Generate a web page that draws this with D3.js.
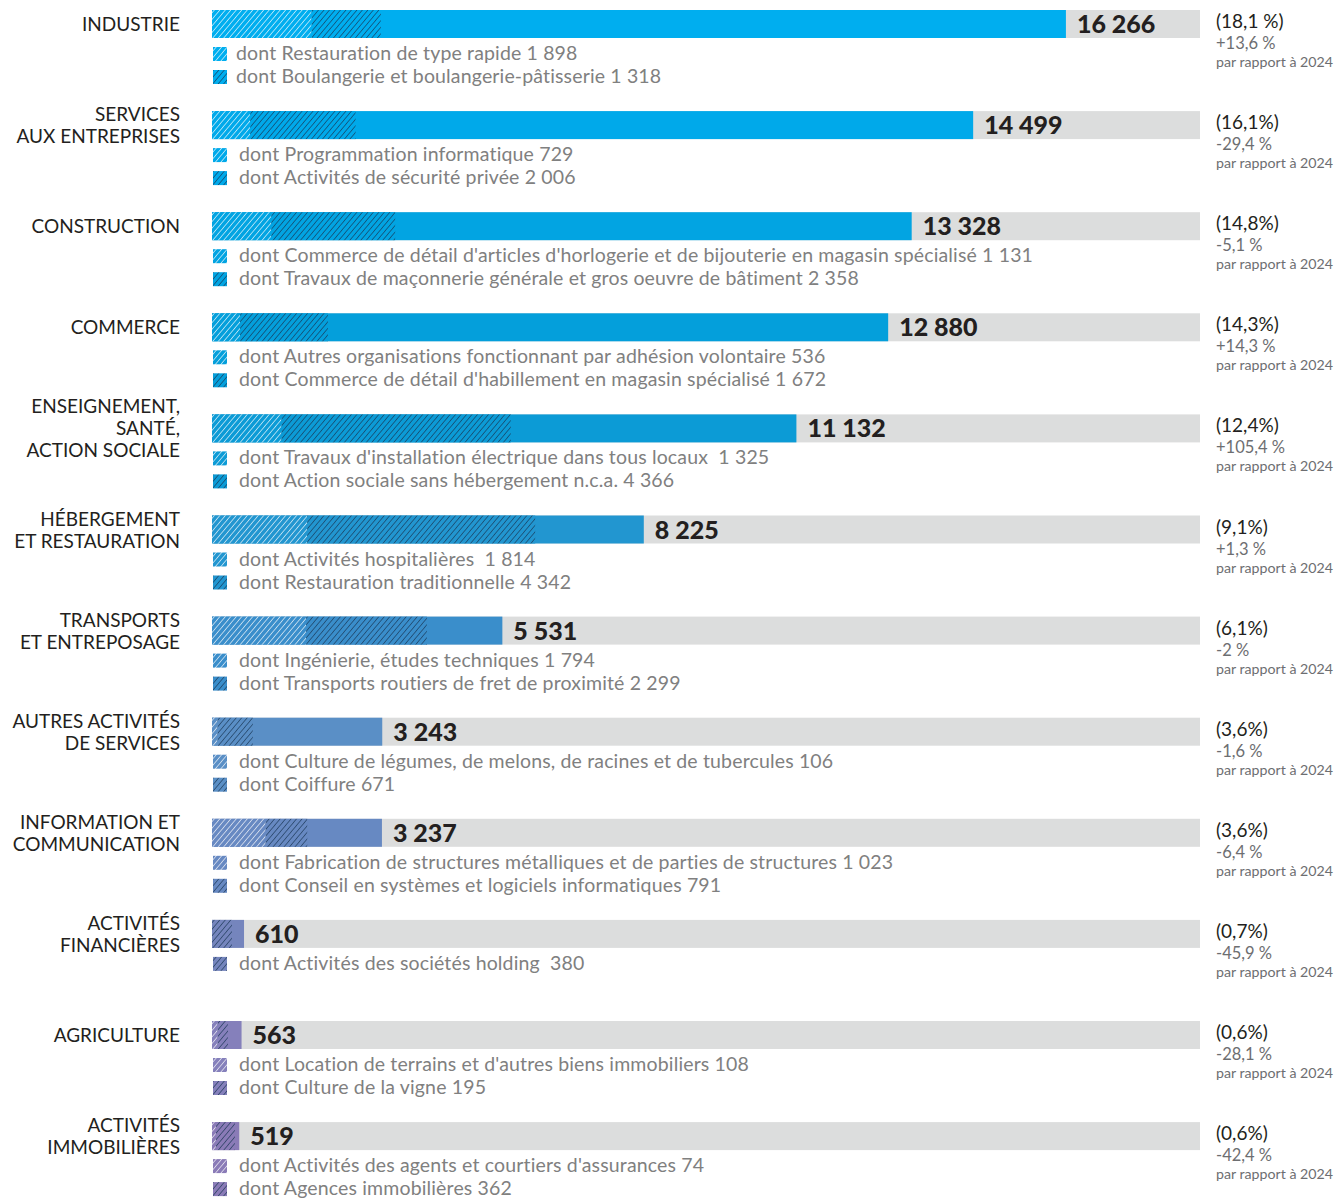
<!DOCTYPE html>
<html>
<head>
<meta charset="utf-8">
<script src="https://cdn.jsdelivr.net/npm/d3@7"></script>
<style>
  body { margin: 0; background: #fff; }
  svg text { font-family: Lato, "Open Sans", sans-serif; white-space: pre; }
</style>
</head>
<body>
<div id="vis"></div>
<script>
// data
const categories = [
  ["INDUSTRIE"],
  ["SERVICES", "AUX ENTREPRISES"],
  ["CONSTRUCTION"],
  ["COMMERCE"],
  ["ENSEIGNEMENT,", "SANTÉ,", "ACTION SOCIALE"],
  ["HÉBERGEMENT", "ET RESTAURATION"],
  ["TRANSPORTS", "ET ENTREPOSAGE"],
  ["AUTRES ACTIVITÉS", "DE SERVICES"],
  ["INFORMATION ET", "COMMUNICATION"],
  ["ACTIVITÉS", "FINANCIÈRES"],
  ["AGRICULTURE"],
  ["ACTIVITÉS", "IMMOBILIÈRES"]
];
const totals = [16266, 14499, 13328, 12880, 11132, 8225, 5531, 3243, 3237, 610, 563, 519];
const shares = ["(18,1 %)", "(16,1%)", "(14,8%)", "(14,3%)", "(12,4%)", "(9,1%)", "(6,1%)", "(3,6%)", "(3,6%)", "(0,7%)", "(0,6%)", "(0,6%)"];
const changes = ["+13,6 %", "-29,4 %", "-5,1 %", "+14,3 %", "+105,4 %", "+1,3 %", "-2 %", "-1,6 %", "-6,4 %", "-45,9 %", "-28,1 %", "-42,4 %"];
const sub1Labels = [
  "dont Restauration de type rapide",
  "dont Programmation informatique",
  "dont Commerce de détail d'articles d'horlogerie et de bijouterie en magasin spécialisé",
  "dont Autres organisations fonctionnant par adhésion volontaire",
  "dont Travaux d'installation électrique dans tous locaux ",
  "dont Activités hospitalières ",
  "dont Ingénierie, études techniques",
  "dont Culture de légumes, de melons, de racines et de tubercules",
  "dont Fabrication de structures métalliques et de parties de structures",
  null,
  "dont Location de terrains et d'autres biens immobiliers",
  "dont Activités des agents et courtiers d'assurances"
];
const sub1Values = [1898, 729, 1131, 536, 1325, 1814, 1794, 106, 1023, 0, 108, 74];
const sub2Labels = [
  "dont Boulangerie et boulangerie-pâtisserie",
  "dont Activités de sécurité privée",
  "dont Travaux de maçonnerie générale et gros oeuvre de bâtiment",
  "dont Commerce de détail d'habillement en magasin spécialisé",
  "dont Action sociale sans hébergement n.c.a.",
  "dont Restauration traditionnelle",
  "dont Transports routiers de fret de proximité",
  "dont Coiffure",
  "dont Conseil en systèmes et logiciels informatiques",
  "dont Activités des sociétés holding ",
  "dont Culture de la vigne",
  "dont Agences immobilières"
];
const sub2Values = [1318, 2006, 2358, 1672, 4366, 4342, 2299, 671, 791, 380, 195, 362];
const colors = ["#00aeef", "#00a9ea", "#02a4e2", "#049fdb", "#0c9bd6", "#2296d0", "#3a8ecb", "#5a8fc6", "#6789c2", "#7585bd", "#8580bb", "#8a7bb7"];

const W = 1343, H = 1201;
const fmt = d3.formatLocale({ decimal: ",", thousands: " ", grouping: [3], currency: ["", ""] }).format(",d");

const svg = d3.select('#vis').append('svg')
  .attr('width', W).attr('height', H);

const x = d3.scaleLinear().domain([0, 18820]).range([212, 1200]);
const y = d3.scaleBand().domain(d3.range(totals.length)).range([10, 10 + 101.1 * totals.length]).paddingInner(0);
const barH = 28;

// hatch patterns, one light and one dark per row
const defs = svg.append('defs');
colors.forEach((c, i) => {
  [["light", "#ffffff"], ["dark", "#173452"]].forEach(([k, lc]) => {
    const p = defs.append('pattern')
      .attr('id', `h-${k}-${i}`)
      .attr('patternUnits', 'userSpaceOnUse')
      .attr('width', 4.2).attr('height', 4.2)
      .attr('patternTransform', 'rotate(40)');
    p.append('rect').attr('width', 4.2).attr('height', 4.2).attr('fill', c);
    p.append('line').attr('x1', 0).attr('y1', 0).attr('x2', 0).attr('y2', 4.2)
      .attr('stroke', lc).attr('stroke-width', 1.2);
  });
});

const rows = svg.selectAll('g.row').data(totals).join('g')
  .attr('class', 'row')
  .attr('transform', (d, i) => `translate(0,${y(i)})`);

// grey background
rows.append('rect')
  .attr('x', x(0)).attr('width', x.range()[1] - x(0))
  .attr('height', barH).attr('fill', '#dcdddd');

// main bar
rows.append('rect')
  .attr('x', x(0)).attr('width', d => x(d) - x(0))
  .attr('height', barH).attr('fill', (d, i) => colors[i]);

// hatched parts
rows.append('rect')
  .attr('x', x(0)).attr('width', (d, i) => x(sub1Values[i]) - x(0))
  .attr('height', barH).attr('fill', (d, i) => `url(#h-light-${i})`);
rows.append('rect')
  .attr('x', (d, i) => x(sub1Values[i]))
  .attr('width', (d, i) => x(sub1Values[i] + sub2Values[i]) - x(sub1Values[i]))
  .attr('height', barH).attr('fill', (d, i) => `url(#h-dark-${i})`);

// value label
rows.append('text')
  .attr('x', d => x(d) + 11).attr('y', barH / 2 + 9)
  .attr('font-size', 25).attr('font-weight', 900).attr('fill', '#231f20')
  .text(d => fmt(d));

// category labels
rows.append('text')
  .attr('text-anchor', 'end')
  .attr('font-size', 19).attr('fill', '#231f20')
  .each(function (d, i) {
    const lines = categories[i];
    const t = d3.select(this);
    lines.forEach((l, j) => {
      t.append('tspan').attr('x', 180)
        .attr('y', barH / 2 + 7 + (j - (lines.length - 1) / 2) * 22)
        .text(l);
    });
  });

// sub legends (a row with a single detail uses the first line)
rows.each(function (d, i) {
  const g = d3.select(this);
  const items = [[sub1Labels[i], sub1Values[i], 'light'], [sub2Labels[i], sub2Values[i], 'dark']]
    .filter(e => e[0]);
  items.forEach(([lab, val, kind], j) => {
    const dy = 44 + j * 23;
    g.append('rect')
      .attr('x', 213).attr('y', dy - 7).attr('width', 14).attr('height', 14)
      .attr('fill', `url(#h-${kind}-${i})`);
    g.append('text')
      .attr('x', i === 0 ? 236 : 239).attr('y', dy + 6)
      .attr('font-size', 19.5).attr('letter-spacing', 0.15).attr('fill', '#808080')
      .text(lab + ' ' + fmt(val));
  });
});

// right side notes
rows.append('text')
  .attr('x', 1216).attr('y', 18)
  .attr('font-size', 19).attr('fill', '#231f20')
  .text((d, i) => shares[i]);
rows.append('text')
  .attr('x', 1216).attr('y', 39)
  .attr('font-size', 16.5).attr('fill', '#6d6e71')
  .text((d, i) => changes[i]);
rows.append('text')
  .attr('x', 1216).attr('y', 57)
  .attr('font-size', 14.2).attr('fill', '#6d6e71')
  .text('par rapport à 2024');
</script>
</body>
</html>
